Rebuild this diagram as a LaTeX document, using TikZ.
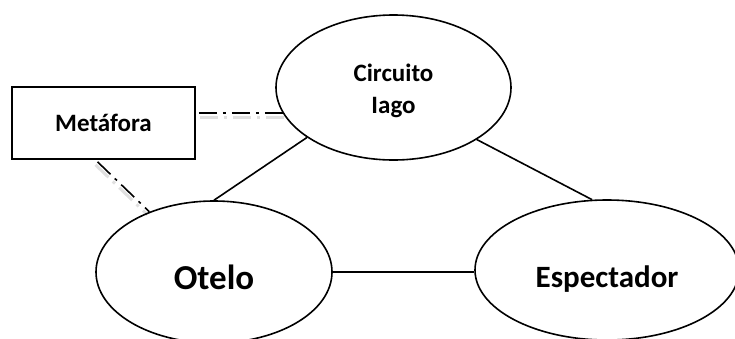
\documentclass[tikz,border=0pt]{standalone}
\usepackage{fontspec}
\setmainfont{Carlito}
\usetikzlibrary{shapes.geometric}
\begin{document}
\begin{tikzpicture}[x=1pt,y=-1pt,
  every node/.style={font=\bfseries},
  oval/.style={ellipse,draw,line width=1.6pt,inner sep=0pt},
  boxnode/.style={rectangle,draw,line width=1.6pt,inner sep=0pt},
  txt/.style={inner sep=0pt,align=center},
  link/.style={line width=1.6pt},
  dashlink/.style={line width=1.6pt,dash pattern=on 18pt off 6pt on 3pt off 6pt},
  shade/.style={line width=3pt,black,opacity=0.12,dash pattern=on 18pt off 6pt on 3pt off 6pt}]
\useasboundingbox (0,0) rectangle (735,338);
\node[oval,minimum width=235pt,minimum height=145pt] (circ) at (393.5,87.5) {};
\node[txt,font=\bfseries\fontsize{25}{32}\selectfont] (circT) at (393.5,91) {Circuito\\Iago};
\node[boxnode,minimum width=183pt,minimum height=72pt,font=\bfseries\fontsize{25}{30}\selectfont] (meta) at (103.5,123) {Metáfora};
\node[oval,minimum width=236pt,minimum height=142pt] (otelo) at (214,272) {};
\node[txt,font=\bfseries\fontsize{35}{40}\selectfont] (oteloT) at (214,277) {Otelo};
\node[oval,minimum width=264pt,minimum height=140pt] (esp) at (607,270) {};
\node[txt,font=\bfseries\fontsize{31}{36}\selectfont] (espT) at (607,279) {Espectador};
\coordinate (m1) at ([xshift=3pt]meta.east |- circ.193);
\coordinate (m2) at ([xshift=-6pt,yshift=-2pt]meta.south);
\draw[shade] ([shift={(1,4)}]m1) -- ([shift={(1,4)}]circ.193);
\draw[shade] ([shift={(-2,3)}]m2) -- ([shift={(-2,3)}]otelo.137);
\draw[dashlink] (m1) -- (circ.193);
\draw[dashlink] (m2) -- (otelo.137);
\draw[link] (circ.210.7) -- (otelo.north);
\draw[link] (circ.328.3) -- (esp.102);
\draw[link] (otelo.east) -- (otelo.east -| esp.west);
\end{tikzpicture}
\end{document}
